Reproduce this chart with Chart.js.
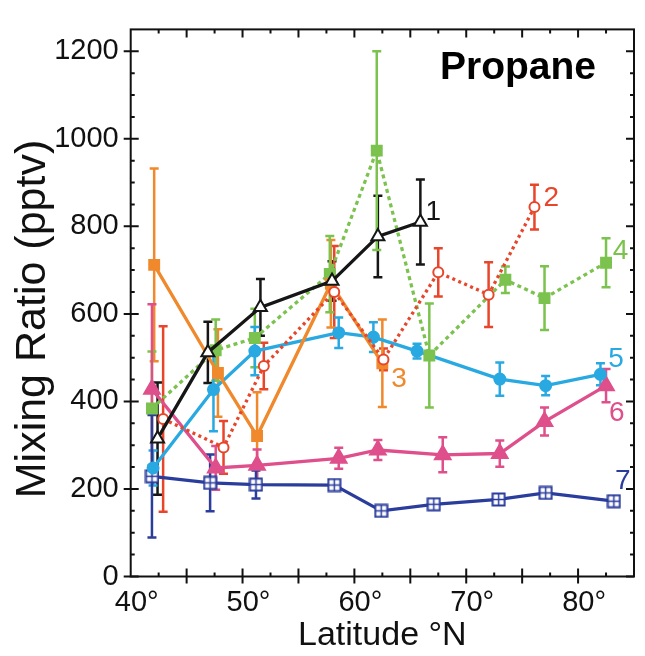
<!DOCTYPE html>
<html lang="en">
<head>
<meta charset="UTF-8">
<title>Propane</title>
<style>
  html, body { margin: 0; padding: 0; background: #fff; }
  #wrap { width: 645px; height: 656px; }
</style>
</head>
<body>
<div id="wrap"><canvas id="chart" width="645" height="656"></canvas></div>
<script src="https://cdn.jsdelivr.net/npm/chart.js"></script>
<script>
// latitude (deg N), propane mixing ratio (pptv) and error bar half-widths, per group
const lat1 = [42.4, 46.9, 51.6, 58.0, 62.1, 65.9];
const val1 = [315, 512, 615, 675, 777, 810];
const err1 = [128, 70, 65, 45, 93, 97];

const lat2 = [42.9, 48.3, 51.9, 58.2, 62.6, 67.5, 72.0, 76.1];
const val2 = [360, 295, 481, 650, 496, 695, 644, 844];
const err2 = [212, 60, 53, 105, 25, 55, 74, 51];

const lat3 = [42.1, 47.8, 51.3, 57.9, 62.5];
const val3 = [712, 465, 321, 669, 487];
const err3 = [220, 100, 100, 100, 100];

const lat4 = [41.9, 47.6, 51.1, 57.8, 62.0, 66.7, 73.5, 77.0, 82.5];
const val4 = [384, 517, 545, 691, 973, 505, 678, 636, 717];
const err4 = [130, 70, 67, 87, 227, 119, 30, 73, 56];

const lat5 = [42.0, 47.4, 51.1, 58.6, 61.7, 65.6, 73.0, 77.1, 82.0];
const val5 = [248, 427, 515, 557, 547, 515, 451, 436, 462];
const err5 = [40, 95, 55, 35, 34, 17, 38, 22, 25];

const lat6 = [41.9, 47.6, 51.3, 58.6, 62.1, 67.9, 73.0, 77.0, 82.5];
const val6 = [428, 248, 254, 270, 289, 278, 281, 354, 436];
const err6 = [194, 50, 36, 24, 23, 40, 30, 32, 38];

const lat7 = [41.9, 47.1, 51.2, 58.2, 62.4, 67.1, 72.9, 77.1, 83.2];
const val7 = [229, 214, 210, 209, 150, 165, 176, 191, 172];
const err7 = [140, 65, 32, 10, 10, 8, 8, 8, 8];

const groupNames = ['1', '2', '3', '4', '5', '6', '7'];
// where each group number is written (lat, pptv)
const nameLat = [67.06, 77.6, 64.0, 83.8, 83.4, 83.45, 84.0];
const nameVal = [833, 865, 450, 742, 497, 372, 218];

const xTicks = [40, 50, 60, 70, 80];
const yTicks = [0, 200, 400, 600, 800, 1000, 1200];

const FONT = 'Arial, "Liberation Sans", Helvetica, sans-serif';
const colors = ['#161616', '#e8452b', '#f0892c', '#7bc24e', '#29a9e1', '#de4f8b', '#2b3d9c'];

function boxCross(color) {
  const c = document.createElement('canvas');
  c.width = 15; c.height = 15;
  const g = c.getContext('2d');
  g.fillStyle = '#fff';
  g.fillRect(1, 1, 13, 13);
  g.strokeStyle = color;
  g.lineWidth = 2;
  g.strokeRect(1.5, 1.5, 12, 12);
  g.lineWidth = 1.5;
  g.beginPath();
  g.moveTo(7.5, 1.5); g.lineTo(7.5, 13.5);
  g.moveTo(1.5, 7.5); g.lineTo(13.5, 7.5);
  g.stroke();
  return c;
}

const pts = (lats, vals) => lats.map((x, i) => ({ x: x, y: vals[i] }));
const lats = [lat1, lat2, lat3, lat4, lat5, lat6, lat7];
const vals = [val1, val2, val3, val4, val5, val6, val7];
const errs = [err1, err2, err3, err4, err5, err6, err7];

const styles = [
  { pointStyle: 'triangle', radius: 7.5, fill: '#fff', dash: [] },
  { pointStyle: 'circle', radius: 5, fill: '#fff', dash: [3, 3.5] },
  { pointStyle: 'rect', radius: 7, fill: colors[2], dash: [] },
  { pointStyle: 'rect', radius: 7, fill: colors[3], dash: [4, 3.5] },
  { pointStyle: 'circle', radius: 5.5, fill: colors[4], dash: [] },
  { pointStyle: 'triangle', radius: 9, fill: colors[5], dash: [] },
  { pointStyle: boxCross(colors[6]), radius: 7, fill: '#fff', dash: [] }
];

const datasets = lats.map((l, i) => ({
  label: groupNames[i],
  data: pts(l, vals[i]),
  borderColor: colors[i],
  backgroundColor: colors[i],
  borderWidth: 3.3,
  borderDash: styles[i].dash,
  pointStyle: styles[i].pointStyle,
  pointRadius: styles[i].radius,
  pointBorderWidth: 2,
  pointBorderColor: colors[i],
  pointBackgroundColor: styles[i].fill,
  tension: 0,
  fill: false
}));

// vertical error bars with caps
const errorBars = {
  id: 'errorBars',
  beforeDatasetsDraw(chart) {
    const ctx = chart.ctx, xs = chart.scales.x, ys = chart.scales.y;
    ctx.save();
    ctx.lineWidth = 2.5;
    errs.forEach((e, i) => {
      ctx.strokeStyle = colors[i];
      e.forEach((d, j) => {
        const x = xs.getPixelForValue(lats[i][j]);
        const yTop = ys.getPixelForValue(vals[i][j] + d);
        const yBot = ys.getPixelForValue(vals[i][j] - d);
        ctx.beginPath();
        ctx.moveTo(x, yTop); ctx.lineTo(x, yBot);
        ctx.moveTo(x - 4.5, yTop); ctx.lineTo(x + 4.5, yTop);
        ctx.moveTo(x - 4.5, yBot); ctx.lineTo(x + 4.5, yBot);
        ctx.stroke();
      });
    });
    ctx.restore();
  }
};

// box frame with ticks on all four sides
const frame = {
  id: 'frame',
  afterDraw(chart) {
    const ctx = chart.ctx, a = chart.chartArea, xs = chart.scales.x, ys = chart.scales.y;
    ctx.save();
    ctx.strokeStyle = '#111';
    ctx.lineWidth = 2;
    ctx.strokeRect(a.left, a.top, a.right - a.left, a.bottom - a.top);
    ctx.beginPath();
    for (let v = 42.5; v < 85; v += 2.5) {
      const x = xs.getPixelForValue(v);
      const major = v % 5 === 0;
      const t = major ? 8 : 4;
      ctx.moveTo(x, a.bottom + (major ? 7 : 0)); ctx.lineTo(x, a.bottom - t);
      ctx.moveTo(x, a.top); ctx.lineTo(x, a.top + t);
    }
    for (let v = 0; v < 1250; v += 50) {
      const y = ys.getPixelForValue(v);
      const major = v % 200 === 0;
      const t = major ? 8 : 4;
      ctx.moveTo(a.left - (major ? 7 : 0), y); ctx.lineTo(a.left + t, y);
      ctx.moveTo(a.right, y); ctx.lineTo(a.right - t, y);
    }
    ctx.stroke();

    // y axis title
    ctx.fillStyle = '#111';
    ctx.font = '43px ' + FONT;
    ctx.textAlign = 'center';
    ctx.textBaseline = 'alphabetic';
    ctx.translate(45, 319);
    ctx.rotate(-Math.PI / 2);
    ctx.fillText('Mixing Ratio (pptv)', 0, 0);
    ctx.restore();
  }
};

// species name and group numbers
const notes = {
  id: 'notes',
  afterDatasetsDraw(chart) {
    const ctx = chart.ctx, xs = chart.scales.x, ys = chart.scales.y;
    ctx.save();
    ctx.fillStyle = '#000';
    ctx.font = 'bold 39px ' + FONT;
    ctx.textAlign = 'left';
    ctx.textBaseline = 'alphabetic';
    ctx.fillText('Propane', 440, 79);
    ctx.font = '28px ' + FONT;
    ctx.textAlign = 'center';
    ctx.textBaseline = 'middle';
    groupNames.forEach((n, i) => {
      ctx.fillStyle = colors[i];
      ctx.fillText(n, xs.getPixelForValue(nameLat[i]), ys.getPixelForValue(nameVal[i]));
    });
    ctx.restore();
  }
};

new Chart(document.getElementById('chart'), {
  type: 'line',
  data: { datasets: datasets },
  options: {
    responsive: false,
    animation: false,
    layout: { padding: { top: 21.7, right: 5.7, bottom: 0, left: 0 } },
    plugins: { legend: { display: false }, tooltip: { enabled: false } },
    scales: {
      x: {
        type: 'linear', min: 40, max: 85,
        afterBuildTicks: s => { s.ticks = xTicks.map(v => ({ value: v })); },
        afterFit: s => { s.height = 79.5; },
        grid: { display: false, drawTicks: false },
        border: { display: false },
        ticks: {
          color: '#111', padding: 9, labelOffset: 6,
          font: { family: FONT, size: 29 },
          callback: v => v + '°'
        },
        title: {
          display: true, text: 'Latitude °N', color: '#111',
          font: { family: FONT, size: 34 }, padding: { top: 0, bottom: 0 }
        }
      },
      y: {
        min: 0, max: 1250,
        afterBuildTicks: s => { s.ticks = yTicks.map(v => ({ value: v })); },
        afterFit: s => { s.width = 130.7; },
        grid: { display: false, drawTicks: false },
        border: { display: false },
        ticks: {
          color: '#111', padding: 12,
          font: { family: FONT, size: 29 },
          callback: v => String(v)
        }
      }
    }
  },
  plugins: [errorBars, notes, frame]
});
</script>
</body>
</html>
